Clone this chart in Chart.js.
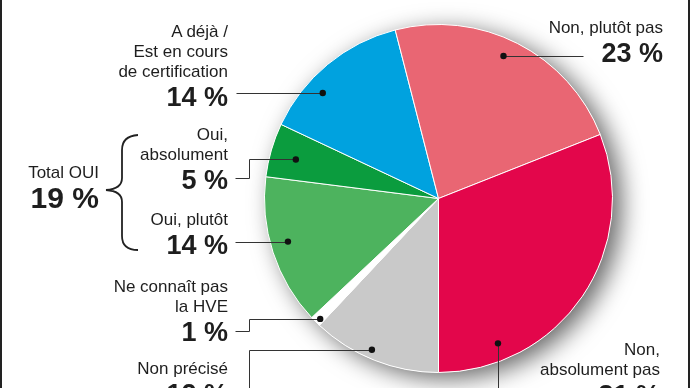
<!DOCTYPE html>
<html>
<head>
<meta charset="utf-8">
<script src="https://cdn.jsdelivr.net/npm/chart.js@4"></script>
<style>
	html, body { margin: 0; padding: 0; background: #fff; }
	#wrap { position: relative; width: 690px; height: 388px; overflow: hidden; font-family: "Liberation Sans", Arial, sans-serif; color: #1e1e1e; }
	#frame { position: absolute; left: 0; top: 0; width: 690px; height: 388px; box-sizing: border-box; border-left: 2px solid #222; border-right: 2px solid #222; pointer-events: none; }
	canvas { position: absolute; left: 0; top: 0; }
	.lab { position: absolute; text-align: right; white-space: nowrap; }
	.lab .t { font-size: 17px; line-height: 20px; }
	.lab .v { font-size: 27px; line-height: 30px; font-weight: bold; }
	.lab.big .v { font-size: 30px; }
</style>
</head>
<body>
<div id="wrap">
	<canvas id="pieChart" width="690" height="388"></canvas>
	<div id="labels"></div>
	<div id="frame"></div>
</div>
<script>
// data, clockwise from the bottom of the pie
const categories = ['Non précisé', 'Ne connaît pas la HVE', 'Oui, plutôt', 'Oui, absolument', 'A déjà / Est en cours de certification', 'Non, plutôt pas', 'Non, absolument pas'];
const labelLines = [['Non précisé'], ['Ne connaît pas', 'la HVE'], ['Oui, plutôt'], ['Oui,', 'absolument'], ['A déjà /', 'Est en cours', 'de certification'], ['Non, plutôt pas'], ['Non,', 'absolument pas']];
const shares = [12, 1, 14, 5, 14, 23, 31];
const totalOuiLabel = 'Total OUI';
const totalOui = 19;

const sliceColors = ['#c9c9c9', '#ffffff', '#4db35e', '#0b9c3e', '#00a2df', '#e96673', '#e3064b'];

// label blocks: right edge, top; dot inside slice (fraction of angle, fraction of radius)
const layout = [
	{ right: 228, top: 359, dot: [0.55, 0.95], leader: d => [[249, 400], [249, d.y], [d.x, d.y]] },
	{ right: 228, top: 277, dot: [0.36, 0.97], leader: d => [[235, 331], [249, 331], [249, d.y], [d.x, d.y]] },
	{ right: 228, top: 210, dot: [0.54, 0.90], leader: d => [[235, d.y], [d.x, d.y]] },
	{ right: 228, top: 125, dot: [0.45, 0.85], leader: d => [[235, 178], [249, 178], [249, d.y], [d.x, d.y]] },
	{ right: 228, top: 22, dot: [0.34, 0.90], leader: d => [[236, d.y], [d.x, d.y]] },
	{ right: 663, top: 18, dot: [0.47, 0.90], leader: d => [[d.x, d.y], [583, d.y]] },
	{ right: 660, top: 340, dot: [0.80, 0.90], leader: d => [[d.x, d.y], [d.x, 400]] }
];

// build the text labels
const labelBox = document.getElementById('labels');
function addLabel(lines, value, right, top, extra) {
	const div = document.createElement('div');
	div.className = 'lab' + (extra ? ' ' + extra : '');
	div.style.right = (690 - right) + 'px';
	div.style.top = top + 'px';
	lines.forEach(function(line) {
		const t = document.createElement('div');
		t.className = 't';
		t.textContent = line;
		div.appendChild(t);
	});
	const v = document.createElement('div');
	v.className = 'v';
	v.textContent = value + ' %';
	div.appendChild(v);
	labelBox.appendChild(div);
}
shares.forEach(function(s, i) {
	addLabel(labelLines[i], s, layout[i].right, layout[i].top);
});
addLabel([totalOuiLabel], totalOui, 99, 163, 'big');

const shadowPlugin = {
	id: 'pieShadow',
	beforeDatasetsDraw(chart) {
		const el = chart.getDatasetMeta(0).data[0];
		const ctx = chart.ctx;
		ctx.save();
		ctx.shadowColor = 'rgba(0,0,0,0.6)';
		ctx.shadowBlur = 24;
		ctx.shadowOffsetX = 9;
		ctx.shadowOffsetY = 6;
		ctx.beginPath();
		ctx.arc(el.x, el.y, el.outerRadius, 0, Math.PI * 2);
		ctx.fillStyle = '#fff';
		ctx.fill();
		ctx.restore();
	}
};

const leaderPlugin = {
	id: 'leaders',
	afterDraw(chart) {
		const ctx = chart.ctx;
		const arcs = chart.getDatasetMeta(0).data;
		ctx.save();
		ctx.strokeStyle = '#333';
		ctx.lineWidth = 1;
		arcs.forEach(function(arc, i) {
			const a = arc.startAngle + layout[i].dot[0] * (arc.endAngle - arc.startAngle);
			const r = layout[i].dot[1] * arc.outerRadius;
			const d = { x: arc.x + Math.cos(a) * r, y: arc.y + Math.sin(a) * r };
			const pts = layout[i].leader(d);
			ctx.beginPath();
			pts.forEach(function(p, k) {
				if (k === 0) ctx.moveTo(Math.round(p[0]) + 0.5, Math.round(p[1]) + 0.5);
				else ctx.lineTo(Math.round(p[0]) + 0.5, Math.round(p[1]) + 0.5);
			});
			ctx.stroke();
			ctx.beginPath();
			ctx.arc(d.x, d.y, 3.2, 0, Math.PI * 2);
			ctx.fillStyle = '#111';
			ctx.fill();
		});
		// brace grouping the two "Oui" answers
		ctx.lineWidth = 1.8;
		ctx.strokeStyle = '#222';
		ctx.beginPath();
		ctx.moveTo(138, 135);
		ctx.quadraticCurveTo(122, 136, 122, 150);
		ctx.lineTo(122, 178);
		ctx.quadraticCurveTo(122, 189, 106, 190);
		ctx.quadraticCurveTo(122, 191, 122, 202);
		ctx.lineTo(122, 236);
		ctx.quadraticCurveTo(122, 250, 138, 250);
		ctx.stroke();
		ctx.restore();
	}
};

const ctxPie = document.getElementById('pieChart').getContext('2d');
const pieChart = new Chart(ctxPie, {
	type: 'pie',
	data: {
		labels: categories,
		datasets: [{
			data: shares,
			backgroundColor: sliceColors,
			borderColor: '#ffffff',
			borderWidth: 1
		}]
	},
	options: {
		responsive: false,
		animation: false,
		rotation: 180,
		layout: { padding: { left: 264, right: 77, top: 24, bottom: 15 } },
		plugins: {
			legend: { display: false },
			tooltip: { enabled: false }
		}
	},
	plugins: [shadowPlugin, leaderPlugin]
});
</script>
</body>
</html>
